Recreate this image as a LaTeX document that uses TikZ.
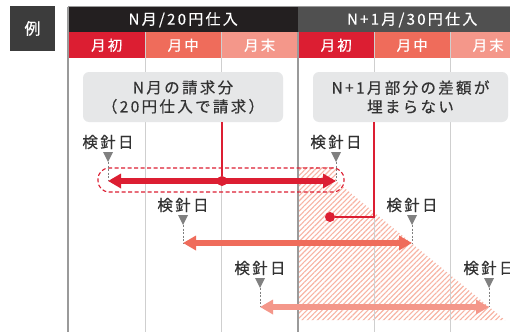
\documentclass[tikz,border=0pt]{standalone}
\usepackage{fontspec}
\setmainfont{Noto Sans CJK JP}[LetterSpace=15,FakeBold=0.4]
\usetikzlibrary{arrows.meta,patterns.meta}
\definecolor{cred}{HTML}{DC1E32}
\definecolor{cmid}{HTML}{EF6C5B}
\definecolor{clight}{HTML}{F4978A}
\definecolor{chatch}{HTML}{F8B3A3}
\definecolor{cblack}{HTML}{231F20}
\definecolor{cdark}{HTML}{505050}
\definecolor{cex}{HTML}{3C3C3C}
\definecolor{cbox}{HTML}{E6E7E8}
\definecolor{ctext}{HTML}{333333}
\definecolor{cgrid}{HTML}{CFCFCF}
\definecolor{cborder}{HTML}{9A9A9A}
\definecolor{ctri}{HTML}{808080}
\begin{document}
\begin{tikzpicture}[x=1pt,y=-1pt,
  exbox/.style={fill=cex,text=white,minimum size=45,inner sep=0,font=\fontsize{16}{16}\selectfont},
  hdr/.style={anchor=north west,minimum height=25,inner sep=0,text=white,font=\fontsize{15}{15}\selectfont},
  subcell/.style={anchor=north west,minimum height=26,inner sep=0,text=white,font=\fontsize{14.5}{14.5}\selectfont},
  callout/.style={fill=cbox,rounded corners=6,minimum height=50,align=center,text=ctext,inner sep=0,font=\fontsize{15.5}{19}\selectfont},
  lab/.style={text=ctext,inner sep=0,font=\fontsize{15.5}{15.5}\selectfont},
  marker/.style={fill=ctri},
  guide/.style={draw=ctri,dash pattern=on 2pt off 1.5pt,line width=0.8},
  span/.style={line width=5.5,{Triangle[length=13pt,width=14pt]}-{Triangle[length=13pt,width=14pt]}},
  gridline/.style={draw=cgrid,line width=0.8},
  mainline/.style={draw=cborder,line width=1.5},
  link/.style={draw=cred,line width=1.2},
  dot/.style={circle,fill=cred,minimum size=10,inner sep=0}]
\useasboundingbox (0,0) rectangle (510,332);
\clip (0,0) rectangle (510,332);
\fill[white] (0,0) rectangle (510,332);
% hatch
\fill[pattern={Lines[angle=45,distance=3.6pt,line width=1.1pt]},pattern color=chatch]
  (298,167) -- (336,167) -- (336,181) -- (505,320) -- (298,320) -- cycle;
% example box
\node[exbox] (ex) at (32.5,28.5) {例};
% header
\draw[cborder,line width=0.8] (68,6.5) -- (510,6.5);
\node[hdr,fill=cblack,minimum width=230] (h1) at (68,7) {N月/20円仕入};
\node[hdr,fill=cdark,minimum width=228] (h2) at (298,7) {N+1月/30円仕入};
\node[subcell,fill=cred,minimum width=77] (s1) at (68,32) {月初};
\node[subcell,fill=cmid,minimum width=76] (s2) at (145,32) {月中};
\node[subcell,fill=clight,minimum width=77] (s3) at (221,32) {月末};
\node[subcell,fill=cred,minimum width=76] (s4) at (298,32) {月初};
\node[subcell,fill=cmid,minimum width=76] (s5) at (374,32) {月中};
\node[subcell,fill=clight,minimum width=76] (s6) at (450,32) {月末};
% grid lines
\foreach \x in {145,221,374,450} \draw[gridline] (\x,32) -- (\x,332);
\draw[mainline] (68,7) -- (68,332);
\draw[mainline] (298,32) -- (298,332);
% callouts
\node[callout,minimum width=200] (b1) at (183,97) {N月の請求分\\（20円仕入で請求）};
\node[callout,minimum width=195] (b2) at (410.5,97) {N+1月部分の差額が\\埋まらない};
% dashed frame
\node[draw=cred,dash pattern=on 4pt off 2.5pt,line width=1.1,rounded corners=11,minimum width=246,minimum height=24,inner sep=0] (frame) at (221,180) {};
% meter reading labels and points
\foreach \n/\x/\y/\m in {a/108/142/181,b/336/142/181,c/183/205/243,d/412/205/243,e/260/268/307,f/489/268/307}{
  \node[lab] (l\n) at (\x,\y) {検針日};
  \coordinate (t\n) at (\x,\y+20);
  \coordinate (m\n) at (\x,\m);
  \fill[marker] (\x-5,\y+10) -- (\x+5,\y+10) -- (t\n) -- cycle;
  \draw[guide] (t\n) -- (m\n);
}
% spans
\draw[span,cred] (ma) -- (mb);
\draw[span,cmid] (mc) -- (md);
\draw[span,clight] (me) -- (mf);
% dots and links
\node[dot] (d1) at (222,181) {};
\node[dot] (d2) at (330,217) {};
\coordinate (k2) at (374,122);
\draw[link] (d1) -- (d1 |- b1.south);
\draw[link] (d2) -| (k2);
\end{tikzpicture}
\end{document}
